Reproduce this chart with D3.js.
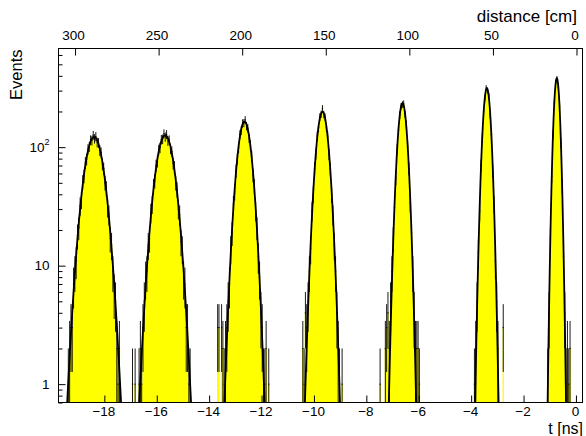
<!DOCTYPE html>
<html>
<head>
<meta charset="utf-8">
<script src="https://cdn.jsdelivr.net/npm/d3@7"></script>
<style>
    body { margin: 0; background: #fff; }
    svg { display: block; font-family: "Liberation Sans", Arial, sans-serif; }
</style>
</head>
<body>
<svg id="chart" width="586" height="436"></svg>
<script>
// histogram: 0.05 ns bins, one count array per peak, starting at peakStart
var binWidth = 0.05;
var peakStart = [-19.40, -16.95, -13.70, -10.50, -7.50, -4.00, -1.20];
var peak1 = [1,2,3,3,7,9,11,18,21,32,36,51,57,74,79,96,101,115,114,126,118,123,110,109,94,90,72,66,50,45,31,27,17,15,9,6,5,2,1,2];
var peak2 = [1,0,1,0,0,1,2,1,3,5,8,9,15,17,28,33,47,52,70,76,95,99,116,117,130,122,128,113,115,97,92,73,68,50,44,30,27,16,14,8,7,3,3,1,1];
var peak3 = [3,3,0,3,2,1,2,3,5,7,14,19,33,42,63,80,99,128,138,159,160,170,151,145,119,104,84,58,47,29,21,12,8,4,3,1,1,2,0,1];
var peak4 = [0,2,1,4,3,5,9,14,29,40,66,88,124,146,180,190,212,189,179,146,124,87,66,40,27,15,9,4,2,1,0,1];
var peak5 = [1,0,0,0,2,3,4,2,5,9,17,31,55,96,139,187,221,229,233,190,155,102,66,34,19,9,4,2,2,2,1,0];
var peak6 = [0,0,1,2,5,13,29,70,119,201,259,316,301,270,188,128,63,33,11,5,2,0,0,0,3,0,0,0];
var peak7 = [0,0,1,4,17,57,128,238,351,379,320,222,109,47,12,4,1,2,1,2,0,0,0,0];
var peaks = [peak1, peak2, peak3, peak4, peak5, peak6, peak7];

// gaussian fit results per peak
var fitConst = [122, 126, 164, 199, 235, 314, 382];
var fitMean = [-18.39, -15.68, -12.65, -9.675, -6.62, -3.40, -0.73];
var fitSigma = [0.320, 0.307, 0.232, 0.199, 0.153, 0.128, 0.099];

// axes
var tTicks = [-18, -16, -14, -12, -10, -8, -6, -4, -2, 0];
var distTicks = [300, 250, 200, 150, 100, 50, 0];
var yTicks = [1, 10, 100];
var yMinorTicks = [0.7, 0.8, 0.9, 2, 3, 4, 5, 6, 7, 8, 9, 20, 30, 40, 50, 60, 70, 80, 90, 200, 300, 400, 500, 600];

var frame = {left: 58.5, right: 582.5, top: 48.5, bottom: 402.5};

var svg = d3.select("#chart");

var x = d3.scaleLinear().domain([-19.75, 0.25]).range([frame.left, frame.right]);
var xDist = d3.scaleLinear().domain([309.9, -3.59]).range([frame.left, frame.right]);
var y = d3.scaleLog().domain([0.7, 680]).range([frame.bottom, frame.top]);

svg.append("clipPath").attr("id", "clip")
    .append("rect")
    .attr("x", frame.left).attr("y", frame.top)
    .attr("width", frame.right - frame.left)
    .attr("height", frame.bottom - frame.top);

var plot = svg.append("g").attr("clip-path", "url(#clip)");

// yellow histogram fill
var area = d3.area()
    .x(function (d) { return x(d[0]); })
    .y0(frame.bottom)
    .y1(function (d) { return d[1] > 0 ? y(d[1]) : frame.bottom; });

peaks.forEach(function (counts, p) {
    var pts = [];
    counts.forEach(function (n, i) {
        var lo = peakStart[p] + i * binWidth;
        pts.push([lo, n], [lo + binWidth, n]);
    });
    plot.append("path")
        .attr("d", area(pts))
        .attr("fill", "#ffff00");
});

// error bars
peaks.forEach(function (counts, p) {
    counts.forEach(function (n, i) {
        if (n <= 0) return;
        var lo = peakStart[p] + i * binWidth;
        var c = lo + binWidth / 2;
        var e = Math.sqrt(n);
        var yLow = n - e > 0 ? y(n - e) : frame.bottom + 2;
        plot.append("line")
            .attr("x1", x(c)).attr("x2", x(c))
            .attr("y1", yLow).attr("y2", y(n + e))
            .attr("stroke", "#000").attr("stroke-width", 0.9);
        plot.append("line")
            .attr("x1", x(lo)).attr("x2", x(lo + binWidth))
            .attr("y1", y(n)).attr("y2", y(n))
            .attr("stroke", "#000").attr("stroke-width", 0.9);
    });
});

// fit curves
var line = d3.line()
    .x(function (d) { return x(d[0]); })
    .y(function (d) { return y(d[1]); });

fitMean.forEach(function (mu, p) {
    var s = fitSigma[p], pts = [];
    for (var t = mu - 4 * s; t <= mu + 4 * s; t += s / 25) {
        pts.push([t, fitConst[p] * Math.exp(-(t - mu) * (t - mu) / (2 * s * s))]);
    }
    plot.append("path")
        .attr("d", line(pts))
        .attr("fill", "none")
        .attr("stroke", "#000")
        .attr("stroke-width", 1.8);
});

// bottom axis: t [ns]
var gx = svg.append("g")
    .attr("transform", "translate(0," + frame.bottom + ")")
    .call(d3.axisBottom(x).tickValues(tTicks).tickSizeInner(-7).tickSizeOuter(0).tickPadding(4)
        .tickFormat(function (d) { return d < 0 ? "\u2212" + Math.abs(d) : d; }));
gx.select(".domain").remove();
gx.selectAll("text").attr("font-size", 13.5).attr("fill", "#000").attr("dx", -1);
gx.selectAll("line").attr("stroke", "#000");

// top axis: distance [cm]
var gt = svg.append("g")
    .attr("transform", "translate(0," + frame.top + ")")
    .call(d3.axisTop(xDist).tickValues(distTicks).tickSizeInner(-7).tickSizeOuter(0).tickPadding(9));
gt.select(".domain").remove();
gt.selectAll("text").attr("font-size", 13.5).attr("fill", "#000").attr("dx", -2);
gt.selectAll("line").attr("stroke", "#000");

// left axis: log Events
var gyMinor = svg.append("g")
    .attr("transform", "translate(" + frame.left + ",0)")
    .call(d3.axisLeft(y).tickValues(yMinorTicks).tickSizeInner(-4).tickSizeOuter(0).tickFormat(""));
gyMinor.select(".domain").remove();
gyMinor.selectAll("line").attr("stroke", "#000");

var gy = svg.append("g")
    .attr("transform", "translate(" + frame.left + ",0)")
    .call(d3.axisLeft(y).tickValues(yTicks).tickSizeInner(-7).tickSizeOuter(0).tickPadding(9)
        .tickFormat(function (d) { return d === 100 ? "" : d; }));
gy.select(".domain").remove();
gy.selectAll("line").attr("stroke", "#000");
gy.selectAll("text").attr("font-size", 13.5).attr("fill", "#000");

// 10^2 label with superscript
var sup = gy.selectAll(".tick").filter(function (d) { return d === 100; }).select("text");
sup.append("tspan").text("10");
sup.append("tspan").attr("font-size", 9).attr("dy", "-0.75em").text("2");

// frame
svg.append("rect")
    .attr("x", frame.left).attr("y", frame.top)
    .attr("width", frame.right - frame.left)
    .attr("height", frame.bottom - frame.top)
    .attr("fill", "none").attr("stroke", "#000").attr("stroke-width", 1);

// titles
svg.append("text")
    .attr("x", 583).attr("y", 434)
    .attr("text-anchor", "end").attr("font-size", 16)
    .text("t [ns]");

svg.append("text")
    .attr("x", 577).attr("y", 22)
    .attr("text-anchor", "end").attr("font-size", 17)
    .text("distance [cm]");

svg.append("text")
    .attr("transform", "translate(22," + (frame.top + 1) + ") rotate(-90)")
    .attr("text-anchor", "end").attr("font-size", 16.5)
    .text("Events");
</script>
</body>
</html>
